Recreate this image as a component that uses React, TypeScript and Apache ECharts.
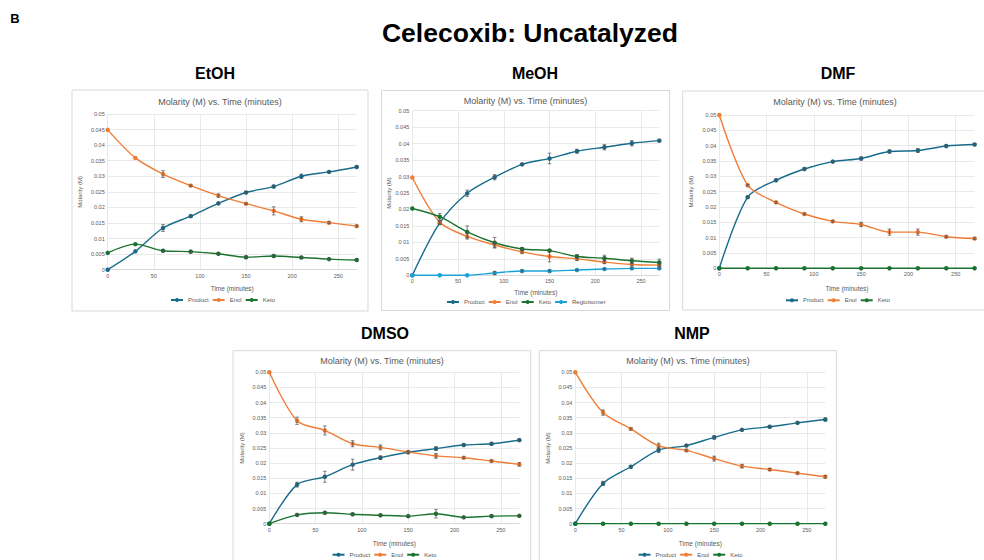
import React, { useEffect, useRef } from 'react';
import * as echarts from 'echarts';

// ---------- data ----------
const time = [0, 30, 60, 90, 120, 150, 180, 210, 240, 270];
const xTicks = [0, 50, 100, 150, 200, 250];
const yTicks = [0, 0.005, 0.01, 0.015, 0.02, 0.025, 0.03, 0.035, 0.04, 0.045, 0.05];
const xMax = 270;

const etohProduct = [0, 0.0059, 0.0134, 0.0172, 0.0213, 0.0248, 0.0267, 0.03, 0.0314, 0.033];
const etohEnol = [0.0449, 0.0359, 0.0307, 0.027, 0.0238, 0.0212, 0.0189, 0.0162, 0.0151, 0.014];
const etohKeto = [0.0054, 0.0082, 0.0061, 0.0058, 0.0051, 0.004, 0.0044, 0.0039, 0.0034, 0.0031];
const etohProductErr = [0, 0, 0.0011, 0.0003, 0.0003, 0.0003, 0.0004, 0.0007, 0.0002, 0.0002];
const etohEnolErr = [0, 0, 0.0011, 0.0002, 0.0005, 0.0002, 0.0013, 0.0008, 0.0003, 0.0003];
const etohKetoErr = [0, 0, 0.0003, 0.0004, 0.0002, 0.0004, 0.0004, 0.0002, 0.0002, 0.0002];

const meohProduct = [0, 0.0159, 0.0249, 0.0298, 0.0337, 0.0355, 0.0377, 0.0389, 0.0401, 0.0409];
const meohEnol = [0.0297, 0.0161, 0.0118, 0.0092, 0.0071, 0.0057, 0.005, 0.004, 0.0033, 0.0031];
const meohKeto = [0.0203, 0.0178, 0.0132, 0.0099, 0.008, 0.0075, 0.0057, 0.0052, 0.0044, 0.0039];
const meohRegio = [0, 0, 0, 0.0007, 0.0013, 0.0013, 0.0016, 0.0019, 0.0021, 0.0021];
const meohProductErr = [0, 0.0004, 0.001, 0.0008, 0.0003, 0.0016, 0.0006, 0.0008, 0.0008, 0.0004];
const meohEnolErr = [0, 0.0005, 0.0008, 0.0008, 0.0004, 0.0016, 0.0005, 0.0004, 0.0004, 0.0004];
const meohKetoErr = [0, 0.001, 0.0018, 0.0016, 0.0004, 0.0004, 0.0006, 0.0009, 0.0008, 0.001];
const meohRegioErr = [0, 0, 0, 0.0005, 0.0003, 0.0003, 0.0002, 0.0002, 0.0002, 0.0002];

const dmfProduct = [0, 0.0232, 0.0287, 0.0324, 0.0348, 0.0358, 0.0381, 0.0384, 0.0399, 0.0404];
const dmfEnol = [0.05, 0.0271, 0.0215, 0.0177, 0.0153, 0.0143, 0.0118, 0.0118, 0.0103, 0.0097];
const dmfKeto = [0, 0, 0, 0, 0, 0, 0, 0, 0, 0];
const dmfProductErr = [0, 0.0003, 0.0003, 0.0003, 0.0003, 0.0005, 0.0005, 0.0006, 0.0003, 0.0003];
const dmfEnolErr = [0, 0.0003, 0.0003, 0.0003, 0.0003, 0.0007, 0.001, 0.001, 0.0003, 0.0003];

const dmsoProduct = [0, 0.0129, 0.0155, 0.0195, 0.0218, 0.0236, 0.0248, 0.026, 0.0264, 0.0276];
const dmsoEnol = [0.05, 0.034, 0.0308, 0.0264, 0.0252, 0.0237, 0.0224, 0.0218, 0.0207, 0.0196];
const dmsoKeto = [0, 0.0029, 0.0036, 0.0031, 0.0028, 0.0025, 0.0033, 0.0021, 0.0025, 0.0026];
const dmsoProductErr = [0, 0.0008, 0.0018, 0.0018, 0.0006, 0.0004, 0.0006, 0.0003, 0.0004, 0.0004];
const dmsoEnolErr = [0, 0.0012, 0.0015, 0.001, 0.0008, 0.0003, 0.0008, 0.0003, 0.0003, 0.0006];
const dmsoKetoErr = [0, 0.0003, 0.0003, 0.0003, 0.0002, 0.0002, 0.0014, 0.0002, 0.0004, 0.0003];

const nmpProduct = [0, 0.0133, 0.0188, 0.0243, 0.0258, 0.0285, 0.031, 0.032, 0.0333, 0.0344];
const nmpEnol = [0.05, 0.0367, 0.0313, 0.0257, 0.0242, 0.0215, 0.019, 0.0179, 0.0167, 0.0155];
const nmpKeto = [0, 0, 0, 0, 0, 0, 0, 0, 0, 0];
const nmpProductErr = [0, 0.0007, 0.0003, 0.0008, 0.0003, 0.0006, 0.0003, 0.0003, 0.0003, 0.0005];
const nmpEnolErr = [0, 0.0009, 0.0003, 0.0009, 0.0003, 0.0008, 0.0006, 0.0003, 0.0003, 0.0004];

const mainTitle = 'Celecoxib: Uncatalyzed';
const panelLabel = 'B';
const chartTitle = 'Molarity (M) vs. Time (minutes)';
const xName = 'Time (minutes)';
const yName = 'Molarity (M)';

// ---------- styles ----------
const COLORS: Record<string, string> = {
  Product: '#176B8B',
  Enol: '#F07D36',
  Keto: '#1B7330',
  Regioisomer: '#1AA3D9',
};
const FONT = '"Liberation Sans", Arial, sans-serif';
const GRAY = '#595959';

type SeriesDef = { name: string; values: number[]; err?: number[] };
type Panel = {
  solvent: string;
  labelPos: [number, number];
  box: [number, number, number, number];
  grid: { left: number; top: number; width: number; height: number };
  titlePos: [number, number];
  legendPos: [number, number];
  xGap: number;
  yGap: number;
  series: SeriesDef[];
};

const panels: Panel[] = [
  {
    solvent: 'EtOH', labelPos: [215, 73], box: [72, 90, 296, 221],
    grid: { left: 107.7, top: 114, width: 249, height: 155.7 },
    titlePos: [220, 102], legendPos: [170, 297], xGap: 15, yGap: 24.7,
    series: [
      { name: 'Product', values: etohProduct, err: etohProductErr },
      { name: 'Enol', values: etohEnol, err: etohEnolErr },
      { name: 'Keto', values: etohKeto, err: etohKetoErr },
    ],
  },
  {
    solvent: 'MeOH', labelPos: [535, 73], box: [381.5, 90.5, 288, 220],
    grid: { left: 412.3, top: 110.7, width: 247, height: 164.6 },
    titlePos: [525.5, 100.7], legendPos: [446, 299], xGap: 13.7, yGap: 20.6,
    series: [
      { name: 'Product', values: meohProduct, err: meohProductErr },
      { name: 'Enol', values: meohEnol, err: meohEnolErr },
      { name: 'Keto', values: meohKeto, err: meohKetoErr },
      { name: 'Regioisomer', values: meohRegio, err: meohRegioErr },
    ],
  },
  {
    solvent: 'DMF', labelPos: [838, 73], box: [682.7, 91, 320, 219],
    grid: { left: 719.3, top: 115, width: 255.3, height: 153.3 },
    titlePos: [835, 102.3], legendPos: [785, 297.3], xGap: 16.4, yGap: 25.3,
    series: [
      { name: 'Product', values: dmfProduct, err: dmfProductErr },
      { name: 'Enol', values: dmfEnol, err: dmfEnolErr },
      { name: 'Keto', values: dmfKeto },
    ],
  },
  {
    solvent: 'DMSO', labelPos: [385, 333], box: [233, 350.7, 297.7, 230],
    grid: { left: 269.3, top: 372.3, width: 250, height: 151.4 },
    titlePos: [382, 360.7], legendPos: [331.5, 551.7], xGap: 16, yGap: 24.6,
    series: [
      { name: 'Product', values: dmsoProduct, err: dmsoProductErr },
      { name: 'Enol', values: dmsoEnol, err: dmsoEnolErr },
      { name: 'Keto', values: dmsoKeto, err: dmsoKetoErr },
    ],
  },
  {
    solvent: 'NMP', labelPos: [692, 333], box: [539.3, 350.7, 297, 230],
    grid: { left: 575.3, top: 372.3, width: 250, height: 151.4 },
    titlePos: [688, 360.7], legendPos: [637.5, 551.7], xGap: 16, yGap: 24.6,
    series: [
      { name: 'Product', values: nmpProduct, err: nmpProductErr },
      { name: 'Enol', values: nmpEnol, err: nmpEnolErr },
      { name: 'Keto', values: nmpKeto },
    ],
  },
];

function errorRenderItem(params: any, api: any) {
  const x = api.value(0);
  const lo = api.value(1);
  const hi = api.value(2);
  const p1 = api.coord([x, lo]);
  const p2 = api.coord([x, hi]);
  const cap = 1.8;
  const style = { stroke: '#505050', lineWidth: 0.7 };
  return {
    type: 'group',
    children: [
      { type: 'line', shape: { x1: p1[0], y1: p1[1], x2: p2[0], y2: p2[1] }, style },
      { type: 'line', shape: { x1: p1[0] - cap, y1: p1[1], x2: p1[0] + cap, y2: p1[1] }, style },
      { type: 'line', shape: { x1: p2[0] - cap, y1: p2[1], x2: p2[0] + cap, y2: p2[1] }, style },
    ],
  };
}

function buildOption() {
  const grids: any[] = [];
  const xAxes: any[] = [];
  const yAxes: any[] = [];
  const series: any[] = [];
  const legends: any[] = [];
  const graphics: any[] = [];

  graphics.push({
    type: 'text', x: 15, y: 18, z: 10,
    style: { text: panelLabel, font: `bold 13px ${FONT}`, fill: '#000', textAlign: 'center', textVerticalAlign: 'middle' },
  });
  graphics.push({
    type: 'text', x: 530, y: 33, z: 10,
    style: { text: mainTitle, font: `bold 26.5px ${FONT}`, fill: '#000', textAlign: 'center', textVerticalAlign: 'middle' },
  });

  panels.forEach((p, i) => {
    graphics.push({
      type: 'rect', z: -1,
      shape: { x: p.box[0], y: p.box[1], width: p.box[2], height: p.box[3] },
      style: { fill: 'none', stroke: '#d9d9d9', lineWidth: 1 },
    });
    graphics.push({
      type: 'text', x: p.labelPos[0], y: p.labelPos[1], z: 10,
      style: { text: p.solvent, font: `bold 16px ${FONT}`, fill: '#000', textAlign: 'center', textVerticalAlign: 'middle' },
    });
    graphics.push({
      type: 'text', x: p.titlePos[0], y: p.titlePos[1], z: 10,
      style: { text: chartTitle, font: `9px ${FONT}`, fill: GRAY, textAlign: 'center', textVerticalAlign: 'middle' },
    });

    grids.push({ ...p.grid, containLabel: false });
    xAxes.push({
      type: 'value', gridIndex: i,
      min: xTicks[0], max: xMax, interval: xTicks[1] - xTicks[0],
      name: xName, nameLocation: 'middle', nameGap: p.xGap,
      nameTextStyle: { fontSize: 6.5, color: GRAY, fontFamily: FONT },
      axisLine: { show: true, lineStyle: { color: '#d9d9d9', width: 1 } },
      axisTick: { show: false },
      axisLabel: { fontSize: 5.5, color: GRAY, margin: 3, showMaxLabel: false, fontFamily: FONT },
      splitLine: { show: true, showMaxLine: false, lineStyle: { color: '#e3e3e3', width: 0.8 } },
    });
    yAxes.push({
      type: 'value', gridIndex: i,
      min: yTicks[0], max: yTicks[yTicks.length - 1], interval: yTicks[1] - yTicks[0],
      name: yName, nameLocation: 'middle', nameGap: p.yGap,
      nameTextStyle: { fontSize: 6, color: GRAY, fontFamily: FONT },
      axisLine: { show: false },
      axisTick: { show: false },
      axisLabel: {
        fontSize: 5.5, color: GRAY, margin: 3, fontFamily: FONT,
        formatter: (v: number) => String(parseFloat(v.toFixed(4))),
      },
      splitLine: { show: true, lineStyle: { color: '#e3e3e3', width: 0.8 } },
    });

    p.series.forEach((s) => {
      const color = COLORS[s.name];
      series.push({
        type: 'line', name: s.name, xAxisIndex: i, yAxisIndex: i,
        data: time.map((t, k) => [t, s.values[k]]),
        smooth: 0.3, symbol: 'circle', symbolSize: 4.5, z: 3,
        lineStyle: { width: 1.4, color },
        itemStyle: { color },
        emphasis: { disabled: true },
      });
      if (s.err) {
        const errData = time
          .map((t, k) => [t, s.values[k] - s.err![k], s.values[k] + s.err![k], s.err![k]])
          .filter((d) => d[3] > 0);
        series.push({
          type: 'custom', xAxisIndex: i, yAxisIndex: i, z: 5, silent: true,
          encode: { x: 0, y: [1, 2] },
          data: errData,
          renderItem: errorRenderItem,
        });
      }
    });

    legends.push({
      data: p.series.map((s) => s.name),
      left: p.legendPos[0], top: p.legendPos[1],
      orient: 'horizontal',
      itemWidth: 12, itemHeight: 5, itemGap: 3, padding: 0,
      selectedMode: false,
      textStyle: { fontSize: 6, color: GRAY, fontFamily: FONT },
    });
  });

  return {
    animation: false,
    backgroundColor: '#ffffff',
    textStyle: { fontFamily: FONT },
    grid: grids,
    xAxis: xAxes,
    yAxis: yAxes,
    legend: legends,
    series,
    graphic: graphics,
  };
}

export default function App() {
  const ref = useRef<HTMLDivElement>(null);
  useEffect(() => {
    if (!ref.current) return;
    const chart = echarts.init(ref.current, undefined, { renderer: 'svg' });
    chart.setOption(buildOption() as any);
    return () => chart.dispose();
  }, []);
  return (
    <div
      ref={ref}
      style={{ position: 'absolute', left: 0, top: 0, width: 984, height: 560, background: '#fff' }}
    />
  );
}
